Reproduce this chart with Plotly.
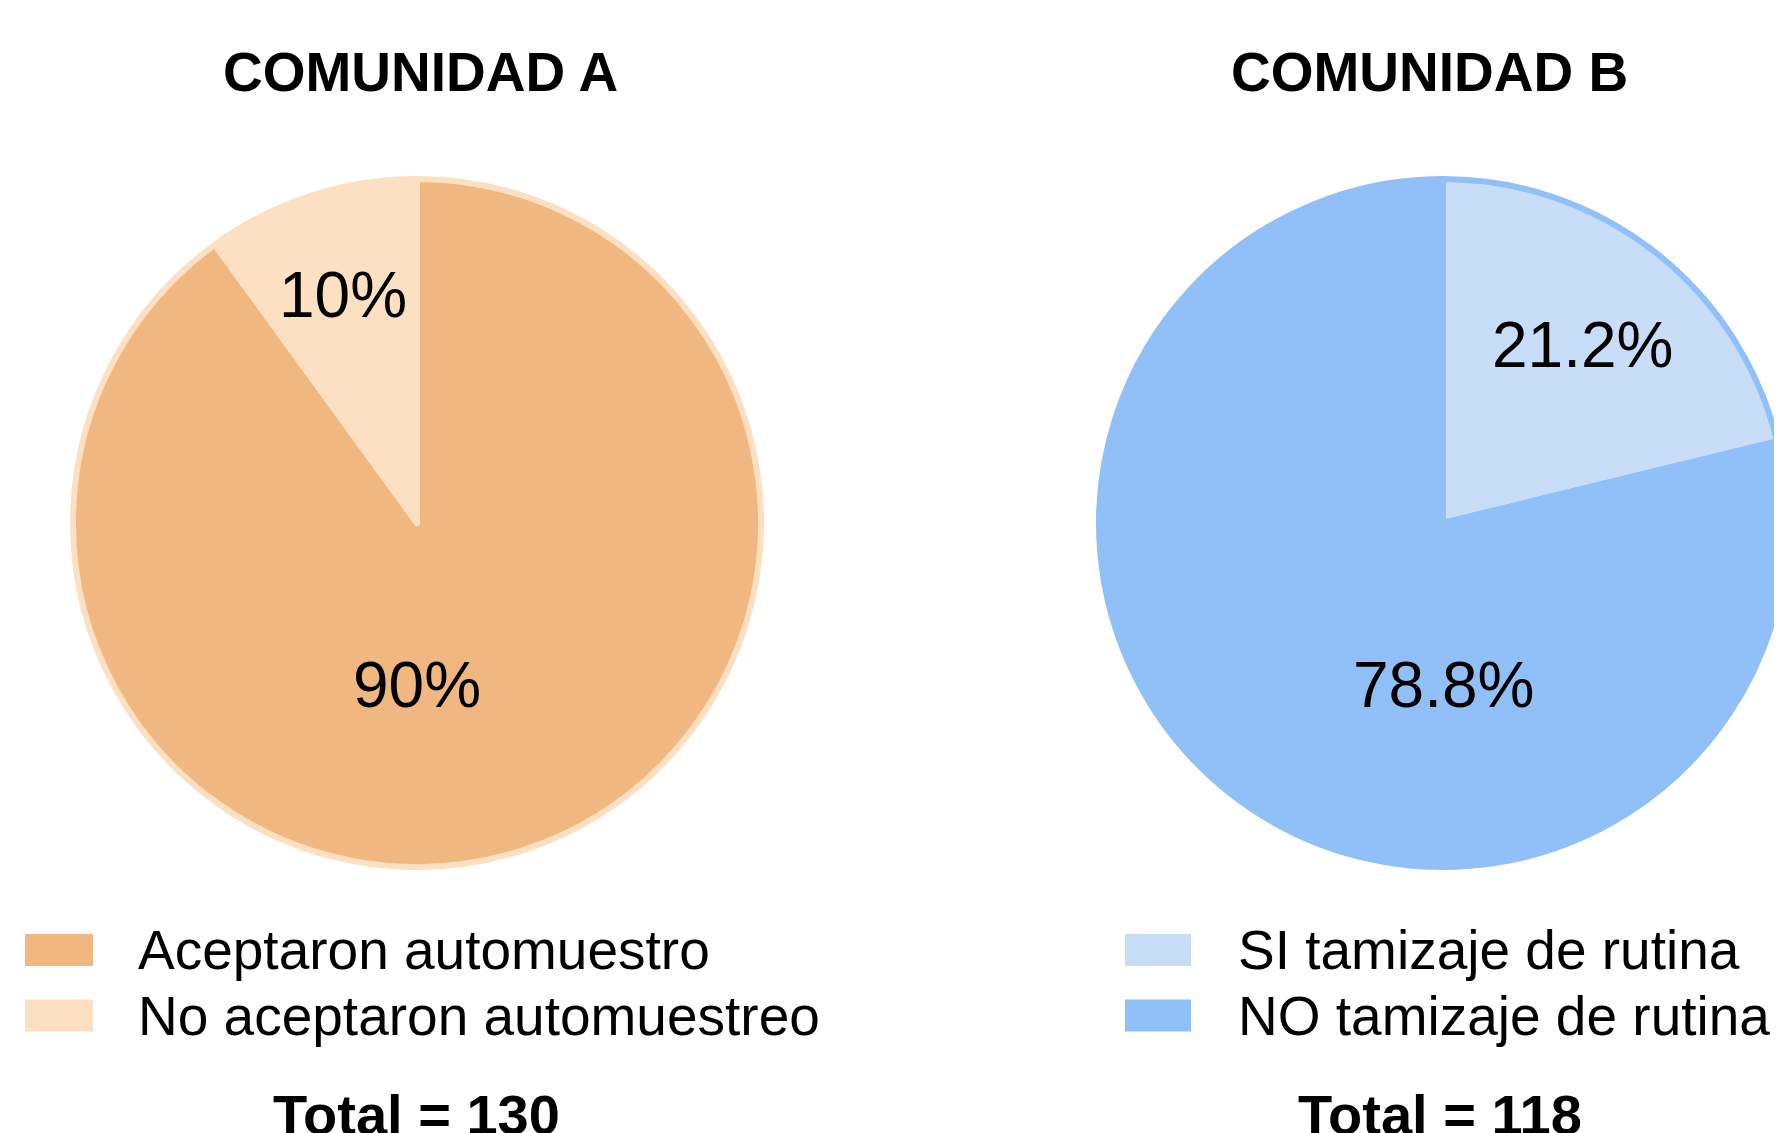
import math
import plotly.graph_objects as go

W, H = 1782, 1133
OFF = 8  # default page margin of the written HTML body
FONT = "Liberation Sans, Arial, sans-serif"

# ---- data ----
titles = ["COMUNIDAD A", "COMUNIDAD B"]
labels_a = ["Aceptaron automuestro", "No aceptaron automuestreo"]
values_a = [117, 13]
colors_a = ["#F1B780", "#FDE0C2"]
labels_b = ["SI tamizaje de rutina", "NO tamizaje de rutina"]
values_b = [25, 93]
colors_b = ["#C8DEF8", "#91BFF8"]
totals = [130, 118]


def fx(x):
    return (x - OFF) / W


def fy(y):
    return 1 - (y - OFF) / H


R = 344
panels = [
    dict(title=titles[0], labels=labels_a, values=values_a, colors=colors_a, total=totals[0],
         cx=417, cy=523, title_x=420, total_x=416, sw_x=(25, 93), txt_x=136),
    dict(title=titles[1], labels=labels_b, values=values_b, colors=colors_b, total=totals[1],
         cx=1443, cy=523, title_x=1429, total_x=1440, sw_x=(1125, 1191), txt_x=1236),
]

fig = go.Figure()
annotations = []
shapes = []
row_y = [950, 1015.5]

for p in panels:
    fig.add_trace(go.Pie(
        labels=p["labels"], values=p["values"], sort=False, direction="clockwise", rotation=0,
        marker=dict(colors=p["colors"], line=dict(color=p["colors"][1], width=6)),
        textinfo="none",
        domain=dict(x=[fx(p["cx"] - R), min(1, fx(p["cx"] + R))],
                    y=[fy(p["cy"] + R), fy(p["cy"] - R)]),
        showlegend=False,
    ))
    # percentage labels, placed from the slice geometry
    tot = sum(p["values"])
    start = 0.0
    for v in p["values"]:
        frac = v / tot
        if frac >= 0.5:
            ang, rr = 180.0, 0.471 * R
        else:
            half = math.pi * frac  # half-angle of the slice (radians)
            centroid = 2 * math.sin(half) / (3 * half)
            ang, rr = (start + frac / 2) * 360.0, 1.065 * centroid * R
        start += frac
        lx = p["cx"] + rr * math.sin(math.radians(ang))
        ly = p["cy"] - rr * math.cos(math.radians(ang))
        annotations.append(dict(text=f"{frac * 100:.3g}%", x=fx(lx), y=fy(ly),
                                xref="paper", yref="paper", xanchor="center", yanchor="middle",
                                showarrow=False, font=dict(size=64, color="black", family=FONT)))
    annotations.append(dict(text=f"<b>{p['title']}</b>", x=fx(p["title_x"]), y=fy(72),
                            xref="paper", yref="paper", xanchor="center", yanchor="middle",
                            showarrow=False, font=dict(size=55, color="black", family=FONT)))
    annotations.append(dict(text=f"<b>Total = {p['total']}</b>", x=fx(p["total_x"]), y=fy(1081),
                            xref="paper", yref="paper", xanchor="center", yanchor="top",
                            showarrow=False, font=dict(size=56, color="black", family=FONT)))
    for lab, col, yc in zip(p["labels"], p["colors"], row_y):
        shapes.append(dict(type="rect", xref="paper", yref="paper",
                           x0=fx(p["sw_x"][0]), x1=fx(p["sw_x"][1]),
                           y0=fy(yc - 16), y1=fy(yc + 16),
                           fillcolor=col, line=dict(width=0)))
        annotations.append(dict(text=lab, x=fx(p["txt_x"]), y=fy(yc),
                                xref="paper", yref="paper", xanchor="left", yanchor="middle",
                                showarrow=False, font=dict(size=55, color="black", family=FONT)))

fig.update_layout(
    width=W, height=H,
    margin=dict(l=0, r=0, t=0, b=0),
    paper_bgcolor="white", plot_bgcolor="white",
    font=dict(family=FONT, color="black"),
    annotations=annotations, shapes=shapes,
    showlegend=False,
)

fig.write_html("out.html", config={"displayModeBar": False})
